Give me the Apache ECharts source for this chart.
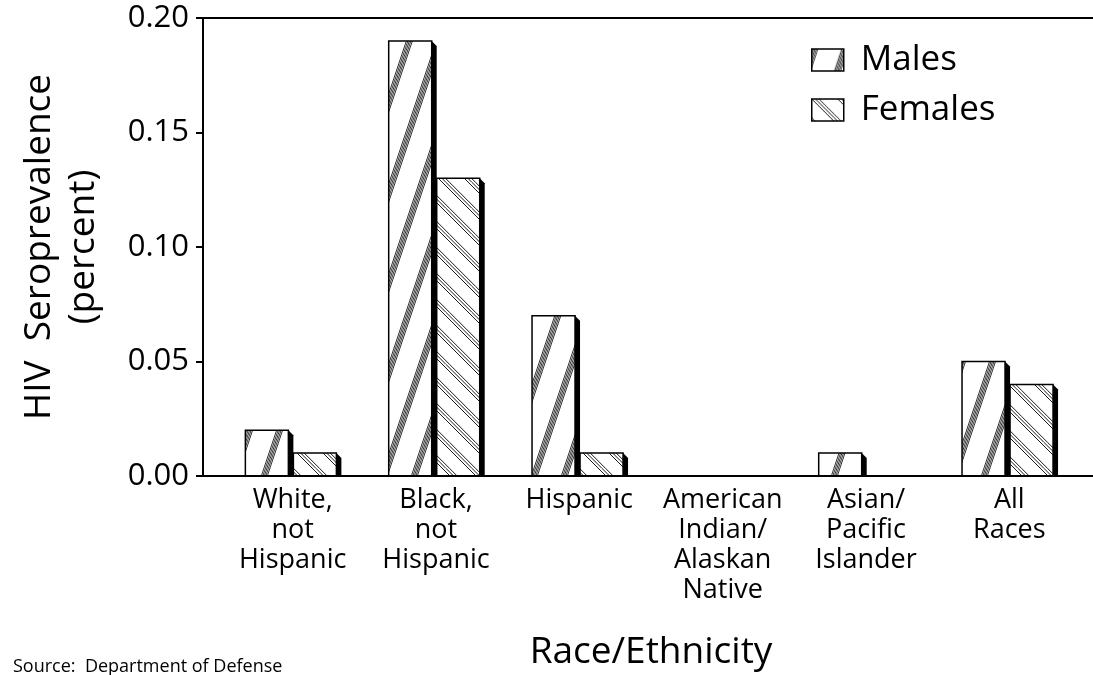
<!DOCTYPE html>
<html>
<head>
<meta charset="utf-8">
<script src="https://cdn.jsdelivr.net/npm/echarts@6/dist/echarts.min.js"></script>
<style>
html, body { margin: 0; padding: 0; background: #fff; }
#chart { width: 1093px; height: 675px; }
</style>
</head>
<body>
<div id="chart"></div>
<script>
// data
const categories = ['White,\nnot\nHispanic', 'Black,\nnot\nHispanic', 'Hispanic',
  'American\nIndian/\nAlaskan\nNative', 'Asian/\nPacific\nIslander', 'All\nRaces'];
const males = [0.02, 0.19, 0.07, 0, 0.01, 0.05];
const females = [0.01, 0.13, 0.01, 0, 0, 0.04];
const yTicks = [0, 0.05, 0.10, 0.15, 0.20];

const FONT = '"Open Sans", "Noto Sans", sans-serif';

// hatch tiles
function malePattern() {
  const c = document.createElement('canvas');
  c.width = 30; c.height = 90;
  const ctx = c.getContext('2d');
  ctx.strokeStyle = '#000';
  ctx.lineWidth = 0.8;
  for (let s = -1; s <= 1; s++) {
    for (let k = 0; k < 5; k++) {
      const x0 = s * 30 + k * 1.5;
      ctx.beginPath();
      ctx.moveTo(x0, 90);
      ctx.lineTo(x0 + 30, 0);
      ctx.stroke();
    }
  }
  return c;
}
function femalePattern() {
  const c = document.createElement('canvas');
  c.width = 26; c.height = 26;
  const ctx = c.getContext('2d');
  ctx.strokeStyle = '#000';
  ctx.lineWidth = 0.9;
  for (let s = -1; s <= 1; s++) {
    for (let k = 0; k < 3; k++) {
      const x0 = s * 26 + k * 3.6;
      ctx.beginPath();
      ctx.moveTo(x0, 0);
      ctx.lineTo(x0 + 26, 26);
      ctx.stroke();
    }
  }
  return c;
}
const maleFill = { image: malePattern(), repeat: 'repeat' };
const femaleFill = { image: femalePattern(), repeat: 'repeat' };

// bar with black side face
function makeRender(fill, shift) {
  return function (params, api) {
    const v = api.value(1);
    if (!v) return;
    const base = api.coord([api.value(0), 0]);
    const top = api.coord([api.value(0), v]);
    const band = api.size([1, 0])[0];
    const w = band * 0.3;
    const d = 5;
    const x = base[0] + shift * band;
    return {
      type: 'group',
      children: [
        {
          type: 'rect',
          shape: { x: x, y: top[1], width: w, height: base[1] - top[1] },
          style: { fill: fill, stroke: '#000', lineWidth: 1.5 }
        },
        {
          type: 'polygon',
          shape: { points: [[x + w, top[1]], [x + w + d, top[1] + d], [x + w + d, base[1]], [x + w, base[1]]] },
          style: { fill: '#000' }
        }
      ]
    };
  };
}

const chart = echarts.init(document.getElementById('chart'));
chart.setOption({
  animation: false,
  textStyle: { fontFamily: FONT, color: '#000' },
  title: {
    text: 'Source:  Department of Defense',
    left: 8, top: 653,
    textStyle: { fontFamily: FONT, fontSize: 18, fontWeight: 'normal', color: '#000' }
  },
  legend: {
    orient: 'vertical',
    left: 806, top: 37,
    itemWidth: 32, itemHeight: 22, itemGap: 14,
    textStyle: { fontFamily: FONT, fontSize: 35, lineHeight: 36, color: '#000', padding: [0, 0, 0, 12] },
    data: [
      { name: 'Males', icon: 'rect', itemStyle: { color: maleFill, borderColor: '#000', borderWidth: 1.5 } },
      { name: 'Females', icon: 'rect', itemStyle: { color: femaleFill, borderColor: '#000', borderWidth: 1.5 } }
    ]
  },
  grid: [
    { left: 221, right: 12, top: 18, bottom: 199, outerBoundsMode: 'none' },
    { left: 203, right: 0, top: 18, bottom: 199, outerBoundsMode: 'none' }
  ],
  xAxis: [
    {
      type: 'category', gridIndex: 0, data: categories,
      axisLine: { show: false }, axisTick: { show: false },
      axisLabel: { interval: 0, fontSize: 27, lineHeight: 30, margin: 9, color: '#000', fontFamily: FONT },
      name: 'Race/Ethnicity', nameLocation: 'middle', nameGap: 158,
      nameTextStyle: { fontSize: 37, color: '#000', fontFamily: FONT }
    },
    {
      type: 'value', gridIndex: 1, position: 'bottom', min: 0, max: 1,
      axisLine: { show: true, lineStyle: { color: '#000', width: 2 } },
      axisTick: { show: false }, axisLabel: { show: false }, splitLine: { show: false }
    },
    {
      type: 'value', gridIndex: 1, position: 'top', min: 0, max: 1,
      axisLine: { show: true, lineStyle: { color: '#000', width: 2 } },
      axisTick: { show: false }, axisLabel: { show: false }, splitLine: { show: false }
    }
  ],
  yAxis: [
    {
      type: 'value', gridIndex: 0, offset: 18,
      min: yTicks[0], max: yTicks[yTicks.length - 1], interval: 0.05,
      axisLine: { show: true, lineStyle: { color: '#000', width: 2 } },
      axisTick: { show: true, length: 7, lineStyle: { color: '#000', width: 2 } },
      axisLabel: { fontSize: 31, margin: 14, color: '#000', fontFamily: FONT, formatter: v => v.toFixed(2) },
      splitLine: { show: false },
      name: 'HIV  Seroprevalence\n(percent)', nameLocation: 'middle', nameGap: 98,
      nameTextStyle: { fontSize: 37, lineHeight: 44, color: '#000', fontFamily: FONT }
    },
    {
      type: 'value', gridIndex: 1, min: 0, max: 1, show: false
    }
  ],
  series: [
    {
      name: 'Males', type: 'custom', xAxisIndex: 0, yAxisIndex: 0,
      itemStyle: { color: maleFill, borderColor: '#000' },
      renderItem: makeRender(maleFill, -0.33),
      data: males.map((v, i) => [i, v])
    },
    {
      name: 'Females', type: 'custom', xAxisIndex: 0, yAxisIndex: 0,
      itemStyle: { color: femaleFill, borderColor: '#000' },
      renderItem: makeRender(femaleFill, 0.005),
      data: females.map((v, i) => [i, v])
    }
  ]
});
</script>
</body>
</html>
